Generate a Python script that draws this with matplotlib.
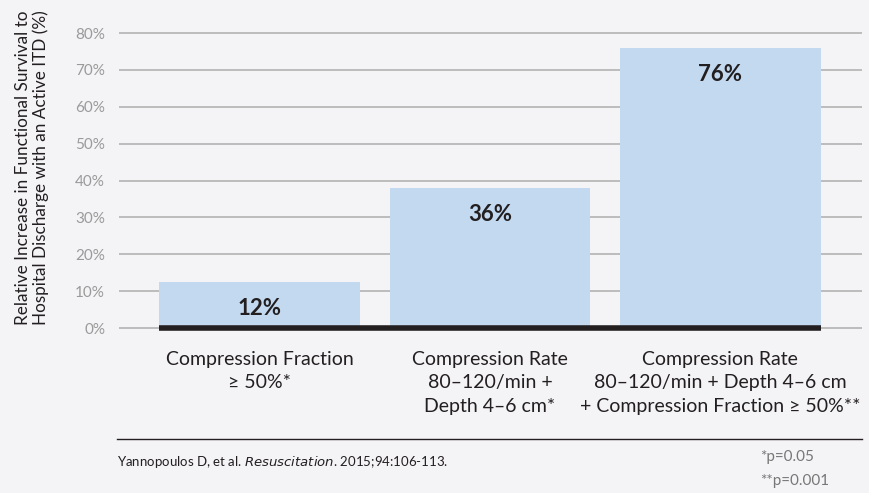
import matplotlib
matplotlib.use('Agg')
import matplotlib.pyplot as plt

plt.rcParams['font.family'] = ['Lato', 'DejaVu Sans']

categories = ['Compression Fraction\n\u2265 50%*',
              'Compression Rate\n80\u2013120/min +\nDepth 4\u20136 cm*',
              'Compression Rate\n80\u2013120/min + Depth 4\u20136 cm\n+ Compression Fraction \u2265 50%**']
heights = [12.5, 38, 76]
labels = ['12%', '36%', '76%']
yticks = [0, 10, 20, 30, 40, 50, 60, 70, 80]

bg = '#f4f3f6'
fig = plt.figure(figsize=(8.7, 4.93), dpi=100, facecolor=bg)
ax = fig.add_axes([0.1368, 0.3272, 0.854, 0.6133], facecolor=bg)

x = [0, 1, 2]
w = 0.87
ax.set_ylim(-1, 81)
ax.set_xlim(-0.61, 2.615)
ax.set_yticks(yticks)
ax.set_yticklabels([f'{t}%' for t in yticks], color='#9a9a9a', fontsize=11)
ax.yaxis.grid(True, color='#b3b3b3', lw=1.2)
ax.set_axisbelow(True)
ax.tick_params(axis='y', length=0, pad=10)
ax.tick_params(axis='x', length=0, pad=14)
for s in ax.spines.values():
    s.set_visible(False)

ax.bar(x, heights, width=w, color='#c2d9f0', zorder=2)
ax.hlines(0, x[0] - w / 2, x[-1] + w / 2, color='#231f20', lw=4, zorder=3)
for xi, h, lab in zip(x, heights, labels):
    ax.annotate(lab, (xi, h), xytext=(0, -19), textcoords='offset points',
                ha='center', va='center', fontsize=16, fontweight='bold',
                color='#231f20')

ax.set_xticks(x)
ax.set_xticklabels(categories, fontsize=14, color='#231f20', linespacing=1.45)

fig.text(0.037, 0.66, 'Relative Increase in Functional Survival to\nHospital Discharge with an Active ITD (%)',
         rotation=90, ha='center', va='center', fontsize=12.3, color='#231f20', linespacing=1.15)

fig.add_artist(plt.Line2D([117 / 870, 862 / 870], [1 - 439 / 493] * 2, color='#231f20', lw=1))
fig.text(117 / 870, 1 - 462 / 493, 'Yannopoulos D, et al. $\\it{Resuscitation}$. 2015;94:106-113.',
         fontsize=9.5, color='#231f20', va='center')
fig.text(760 / 870, 1 - 457 / 493, '*p=0.05', fontsize=11, color='#777777', va='center')
fig.text(760 / 870, 1 - 481 / 493, '**p=0.001', fontsize=11, color='#777777', va='center')

fig.savefig('out.png', dpi=100, facecolor=bg)
